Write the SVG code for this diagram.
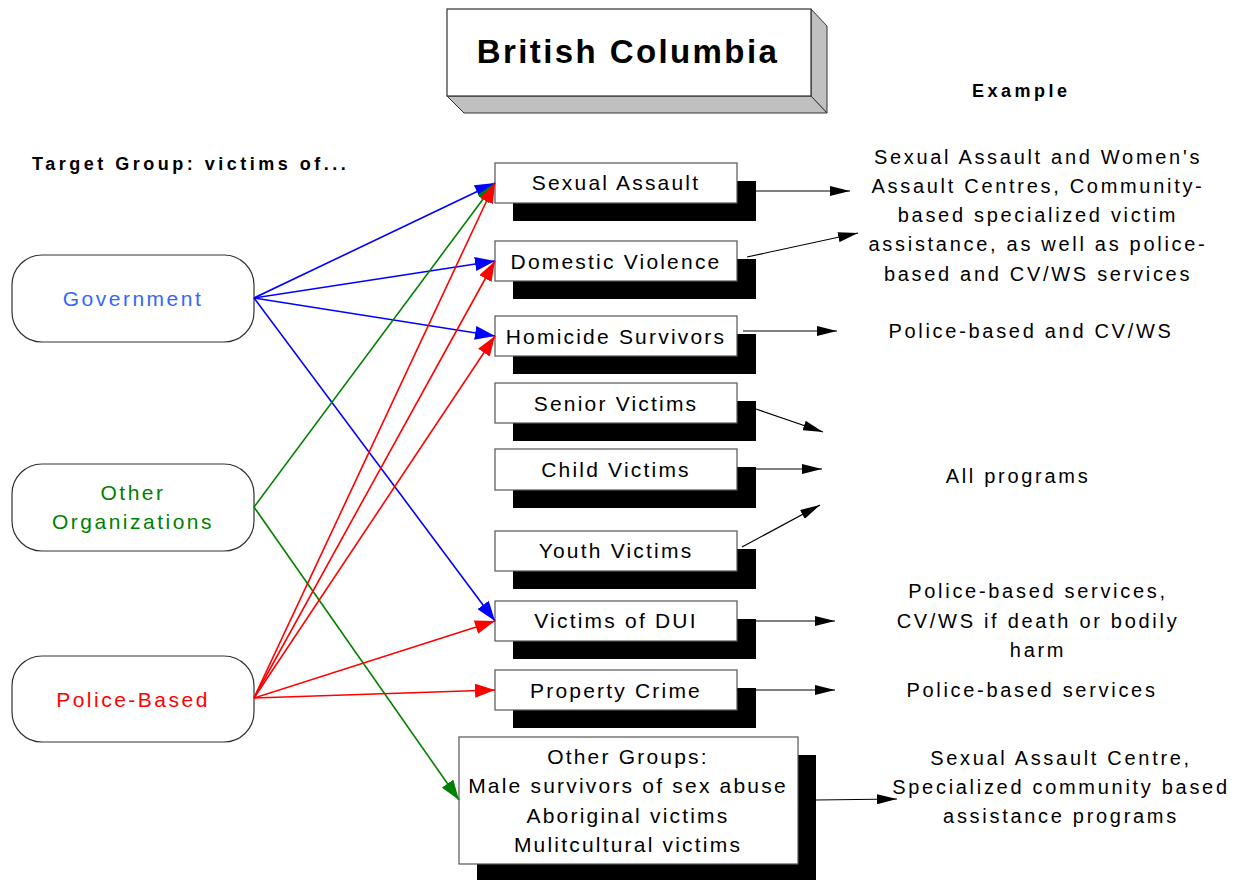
<svg xmlns="http://www.w3.org/2000/svg" width="1242" height="880" viewBox="0 0 1242 880">
  <style>
    text { font-family: "Liberation Sans", Arial, sans-serif; }
    .lbl { font-size: 21px; letter-spacing: 2.2px; text-anchor: middle; fill: #000; }
    .src { font-size: 21px; letter-spacing: 2.5px; text-anchor: middle; }
    .ex { font-size: 20px; letter-spacing: 2.7px; text-anchor: middle; fill: #000; }
    .hdr { font-size: 18px; font-weight: bold; letter-spacing: 3.5px; fill: #000; }
    .box { fill: #fff; stroke: #555; stroke-width: 1.2; }
    .shadow { fill: #000; }
    .pill { fill: #fff; stroke: #333; stroke-width: 1.2; }
    .blue { stroke: #0000ff; stroke-width: 1.6; fill: none; marker-end: url(#ahBlue); }
    .green { stroke: #008000; stroke-width: 1.6; fill: none; marker-end: url(#ahGreen); }
    .red { stroke: #ff0000; stroke-width: 1.6; fill: none; marker-end: url(#ahRed); }
    .out { stroke: #000; stroke-width: 1.2; fill: none; marker-end: url(#ahBlack); }
  </style>
  <defs>
    <marker id="ahBlue" markerUnits="userSpaceOnUse" markerWidth="20" markerHeight="14" refX="20" refY="7" orient="auto">
      <path d="M0,0 L20,7 L0,14 z" fill="#0000ff"/>
    </marker>
    <marker id="ahGreen" markerUnits="userSpaceOnUse" markerWidth="20" markerHeight="14" refX="20" refY="7" orient="auto">
      <path d="M0,0 L20,7 L0,14 z" fill="#008000"/>
    </marker>
    <marker id="ahRed" markerUnits="userSpaceOnUse" markerWidth="20" markerHeight="14" refX="20" refY="7" orient="auto">
      <path d="M0,0 L20,7 L0,14 z" fill="#ff0000"/>
    </marker>
    <marker id="ahBlack" markerUnits="userSpaceOnUse" markerWidth="20" markerHeight="10" refX="20" refY="5" orient="auto">
      <path d="M0,0 L20,5 L0,10 z" fill="#000"/>
    </marker>
  </defs>

  <rect width="1242" height="880" fill="#fff"/>

  <!-- title block (3D box) -->
  <g id="title">
    <polygon points="811,9 827,26 827,113 811,96" fill="#c0c0c0" stroke="#333" stroke-width="1"/>
    <polygon points="447,96 811,96 827,113 464,113" fill="#c0c0c0" stroke="#333" stroke-width="1"/>
    <rect x="447" y="9" width="364" height="87" fill="#fff" stroke="#333" stroke-width="1.2"/>
    <text x="628" y="63" text-anchor="middle" font-size="33" font-weight="bold" letter-spacing="2.4" fill="#000">British Columbia</text>
  </g>

  <text id="example-hdr" class="hdr" x="972" y="97" letter-spacing="4.5">Example</text>
  <text id="target-hdr" class="hdr" x="32" y="170">Target Group: victims of...</text>

  <!-- source nodes -->
  <g id="government">
    <rect class="pill" x="12" y="255" width="242" height="87" rx="30"/>
    <text class="src" x="133" y="306" fill="#3366ff">Government</text>
  </g>
  <g id="other-organizations">
    <rect class="pill" x="12" y="464" width="242" height="87" rx="30"/>
    <text class="src" x="133" y="500" fill="#008000">Other</text>
    <text class="src" x="133" y="529" fill="#008000">Organizations</text>
  </g>
  <g id="police-based">
    <rect class="pill" x="12" y="656" width="242" height="86" rx="30"/>
    <text class="src" x="133" y="707" fill="#ff0000">Police-Based</text>
  </g>

  <!-- target group boxes -->
  <g id="sexual-assault">
    <rect class="shadow" x="513" y="181" width="243" height="40"/>
    <rect class="box" x="495" y="163" width="242" height="40"/>
    <text class="lbl" x="616" y="190">Sexual Assault</text>
  </g>
  <g id="domestic-violence">
    <rect class="shadow" x="513" y="259" width="243" height="40"/>
    <rect class="box" x="495" y="241" width="242" height="40"/>
    <text class="lbl" x="616" y="269">Domestic Violence</text>
  </g>
  <g id="homicide-survivors">
    <rect class="shadow" x="513" y="334" width="243" height="40" fill="#111"/>
    <rect class="box" x="495" y="316" width="242" height="40"/>
    <text class="lbl" x="616" y="344">Homicide Survivors</text>
  </g>
  <g id="senior-victims">
    <rect class="shadow" x="513" y="401" width="243" height="40"/>
    <rect class="box" x="495" y="383" width="242" height="40"/>
    <text class="lbl" x="616" y="411">Senior Victims</text>
  </g>
  <g id="child-victims">
    <rect class="shadow" x="513" y="467" width="243" height="41"/>
    <rect class="box" x="495" y="449" width="242" height="41"/>
    <text class="lbl" x="616" y="477">Child Victims</text>
  </g>
  <g id="youth-victims">
    <rect class="shadow" x="513" y="549" width="243" height="40"/>
    <rect class="box" x="495" y="531" width="242" height="40"/>
    <text class="lbl" x="616" y="558">Youth Victims</text>
  </g>
  <g id="victims-of-dui">
    <rect class="shadow" x="513" y="619" width="243" height="40"/>
    <rect class="box" x="495" y="601" width="242" height="40"/>
    <text class="lbl" x="616" y="628">Victims of DUI</text>
  </g>
  <g id="property-crime">
    <rect class="shadow" x="513" y="688" width="243" height="40" fill="#141414"/>
    <rect class="box" x="495" y="670" width="242" height="40"/>
    <text class="lbl" x="616" y="698">Property Crime</text>
  </g>
  <g id="other-groups">
    <rect class="shadow" x="477" y="755" width="339" height="127"/>
    <rect class="box" x="459" y="737" width="339" height="127"/>
    <text class="lbl" x="628" y="764">Other Groups:</text>
    <text class="lbl" x="628" y="793">Male survivors of sex abuse</text>
    <text class="lbl" x="628" y="823">Aboriginal victims</text>
    <text class="lbl" x="628" y="852" letter-spacing="2">Mulitcultural victims</text>
  </g>

  <!-- example programs -->
  <g id="examples">
    <text class="ex" x="1038" y="164">Sexual Assault and Women's</text>
    <text class="ex" x="1038" y="193">Assault Centres, Community-</text>
    <text class="ex" x="1038" y="222">based specialized victim</text>
    <text class="ex" x="1038" y="251" letter-spacing="2.2">assistance, as well as police-</text>
    <text class="ex" x="1038" y="281">based and CV/WS services</text>
    <text class="ex" x="1031" y="338">Police-based and CV/WS</text>
    <text class="ex" x="1018" y="483">All programs</text>
    <text class="ex" x="1038" y="598">Police-based services,</text>
    <text class="ex" x="1038" y="628">CV/WS if death or bodily</text>
    <text class="ex" x="1038" y="657">harm</text>
    <text class="ex" x="1032" y="697">Police-based services</text>
    <text class="ex" x="1061" y="765">Sexual Assault Centre,</text>
    <text class="ex" x="1061" y="794">Specialized community based</text>
    <text class="ex" x="1061" y="823">assistance programs</text>
  </g>

  <!-- connectors -->
  <g id="connectors">
    <!-- Government -->
    <line class="blue" x1="254" y1="298" x2="495" y2="183"/>
    <line class="blue" x1="254" y1="298" x2="495" y2="261"/>
    <line class="blue" x1="254" y1="298" x2="495" y2="336"/>
    <line class="blue" x1="254" y1="298" x2="495" y2="621"/>
    <!-- Other Organizations -->
    <line class="green" x1="254" y1="507" x2="495" y2="183"/>
    <line class="green" x1="254" y1="507" x2="459" y2="800"/>
    <!-- Police-Based -->
    <line class="red" x1="254" y1="698" x2="495" y2="183"/>
    <line class="red" x1="254" y1="698" x2="495" y2="261"/>
    <line class="red" x1="254" y1="698" x2="495" y2="336"/>
    <line class="red" x1="254" y1="698" x2="495" y2="621"/>
    <line class="red" x1="254" y1="698" x2="495" y2="690"/>
    <!-- to example programs -->
    <line class="out" x1="756" y1="191" x2="850" y2="191"/>
    <line class="out" x1="747" y1="257" x2="858" y2="233"/>
    <line class="out" x1="743" y1="331" x2="837" y2="331"/>
    <line class="out" x1="756" y1="409" x2="823" y2="432"/>
    <line class="out" x1="756" y1="469" x2="822" y2="469"/>
    <line class="out" x1="742" y1="547" x2="820" y2="505"/>
    <line class="out" x1="756" y1="621" x2="835" y2="621"/>
    <line class="out" x1="737" y1="690" x2="835" y2="690"/>
    <line class="out" x1="816" y1="800" x2="897" y2="799"/>
  </g>
</svg>
